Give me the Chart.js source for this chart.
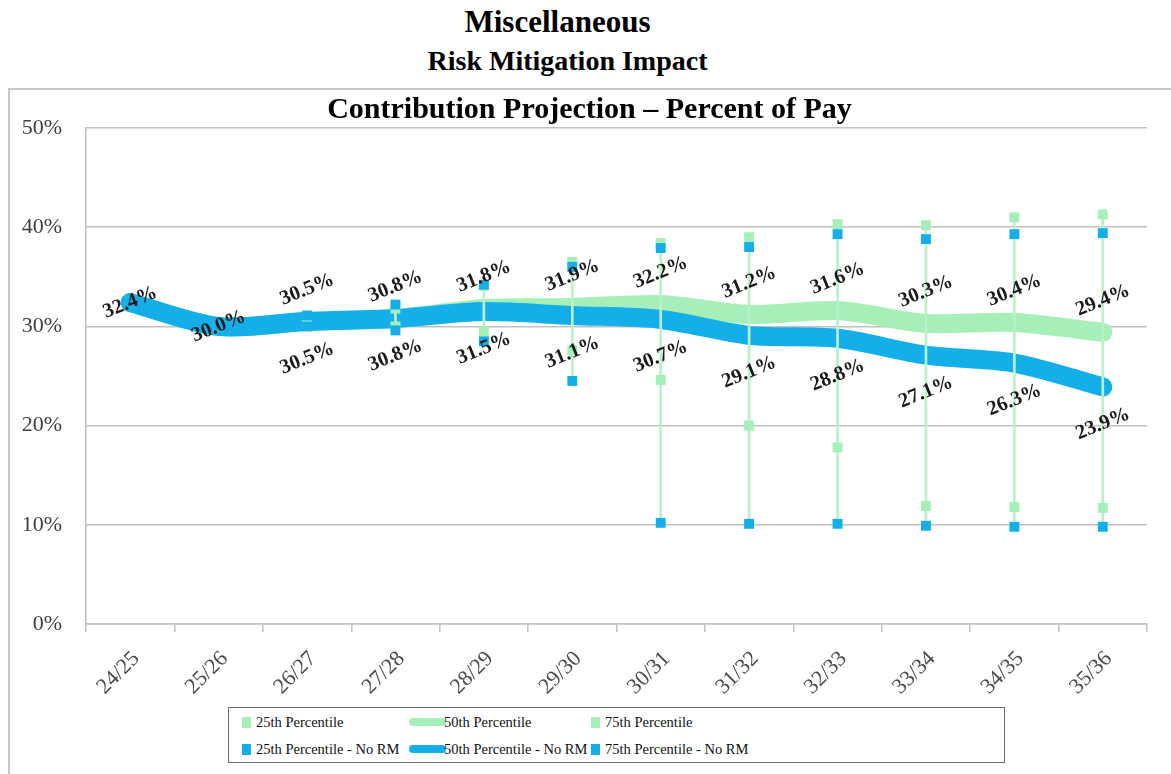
<!DOCTYPE html>
<html>
<head>
<meta charset="utf-8">
<script src="https://cdn.jsdelivr.net/npm/chart.js@4.4.1/dist/chart.umd.min.js"></script>
<style>
html,body{margin:0;padding:0;background:#fff;}
body{width:1171px;height:774px;position:relative;overflow:hidden;font-family:"Liberation Serif","Times New Roman",serif;color:#000;}
.t1{position:absolute;left:0;width:1115px;top:6px;text-align:center;font-size:31px;line-height:31px;font-weight:bold;}
.t2{position:absolute;left:0;width:1135px;top:47px;text-align:center;font-size:28px;line-height:28px;font-weight:bold;}
.frame{position:absolute;left:8px;top:88px;width:1300px;height:900px;border:2px solid #c8c8c8;box-sizing:border-box;}
.wrap{position:absolute;left:8px;top:88px;width:1163px;height:686px;}
.legend{position:absolute;left:228px;top:707px;width:777px;height:56px;border:1.5px solid #6e6e6e;box-sizing:border-box;background:#fff;}
.li{position:absolute;font-size:14.5px;line-height:16px;color:#111;white-space:nowrap;}
.mk{position:absolute;}
</style>
</head>
<body>
<div class="t1">Miscellaneous</div>
<div class="t2">Risk Mitigation Impact</div>
<div class="frame"></div>
<div class="wrap"><canvas id="c"></canvas></div>
<div class="legend" id="legend"></div>
<script>
// ---- data ----
const categories = ["24/25","25/26","26/27","27/28","28/29","29/30","30/31","31/32","32/33","33/34","34/35","35/36"];
const p25    = [32.4, 30.0, 30.1, 30.0, 29.5, 27.6, 24.6, 20.0, 17.8, 11.9, 11.8, 11.7];
const p50    = [32.4, 30.0, 30.5, 30.8, 31.8, 31.9, 32.2, 31.2, 31.6, 30.3, 30.4, 29.4];
const p75    = [32.4, 30.0, 31.0, 31.8, 34.1, 36.5, 38.4, 39.0, 40.3, 40.2, 41.0, 41.3];
const p25NoRM = [32.4, 30.0, 30.0, 29.6, 28.5, 24.5, 10.2, 10.1, 10.1, 9.9, 9.8, 9.8];
const p50NoRM = [32.4, 30.0, 30.5, 30.8, 31.5, 31.1, 30.7, 29.1, 28.8, 27.1, 26.3, 23.9];
const p75NoRM = [32.4, 30.0, 31.1, 32.2, 34.2, 36.0, 37.9, 38.0, 39.3, 38.8, 39.3, 39.4];
const yTicks = [0, 10, 20, 30, 40, 50];

const GREEN = '#a6efb8';
const BLUE = '#14aee8';
const HILO = '#b9f2c9';
const SERIF = '"Liberation Serif","Times New Roman",serif';

// high-low range across all series at each category
const hiLo = categories.map((c, i) => {
  const vals = [p25[i], p50[i], p75[i], p25NoRM[i], p50NoRM[i], p75NoRM[i]];
  return [Math.min(...vals), Math.max(...vals)];
});

const markerDs = (label, data, color, order) => ({
  type: 'line', label, data, showLine: false,
  pointStyle: 'rect', pointRadius: 7, pointBorderWidth: 0,
  pointBackgroundColor: color, borderColor: color, backgroundColor: color,
  order, legendKind: 'marker'
});
const lineDs = (label, data, color, order, labelPos) => ({
  type: 'line', label, data, borderColor: color, backgroundColor: color,
  borderWidth: 19, borderCapStyle: 'round', borderJoinStyle: 'round',
  tension: 0.3, pointRadius: 0, order, legendKind: 'line', labelPos
});

const labelPlugin = {
  id: 'valueLabels',
  afterDatasetsDraw(chart) {
    const ctx = chart.ctx;
    ctx.save();
    ctx.font = 'bold 20.5px ' + SERIF;
    ctx.fillStyle = '#1a1a1a';
    ctx.textAlign = 'center';
    ctx.textBaseline = 'middle';
    chart.data.datasets.forEach((ds, di) => {
      if (!ds.labelPos) return;
      const meta = chart.getDatasetMeta(di);
      meta.data.forEach((pt, i) => {
        let dy;
        if (i < 2) {
          if (ds.labelPos !== 'above') return;
          dy = 0;
        } else {
          dy = ds.labelPos === 'above' ? -32 : 37;
        }
        ctx.save();
        ctx.translate(pt.x, pt.y + dy);
        ctx.rotate(-22 * Math.PI / 180);
        ctx.fillText(ds.data[i].toFixed(1) + '%', 0, 0);
        ctx.restore();
      });
    });
    ctx.restore();
  }
};

const chart = new Chart(document.getElementById('c'), {
  data: {
    labels: categories,
    datasets: [
      lineDs('50th Percentile', p50, GREEN, 7, 'above'),
      lineDs('50th Percentile - No RM', p50NoRM, BLUE, 6, 'below'),
      { type: 'bar', label: 'hilo', data: hiLo, backgroundColor: HILO, barThickness: 2, order: 5, legendKind: 'none' },
      markerDs('25th Percentile', p25, GREEN, 4),
      markerDs('75th Percentile', p75, GREEN, 4),
      markerDs('25th Percentile - No RM', p25NoRM, BLUE, 2),
      markerDs('75th Percentile - No RM', p75NoRM, BLUE, 1)
    ]
  },
  options: {
    responsive: true,
    maintainAspectRatio: false,
    animation: false,
    events: [],
    layout: { padding: { left: 0, right: 0, top: 0, bottom: 0 } },
    plugins: {
      legend: { display: false },
      tooltip: { enabled: false },
      title: {
        display: true,
        text: 'Contribution Projection \u2013 Percent of Pay',
        color: '#000',
        font: { family: SERIF, size: 30, weight: 'bold' },
        padding: { top: 4, bottom: 0 }
      }
    },
    scales: {
      x: {
        type: 'category',
        offset: true,
        grid: { display: true, offset: true, drawOnChartArea: false, drawTicks: true, tickLength: 8, color: '#c0c0c0', lineWidth: 1.5 },
        border: { display: true, color: '#c0c0c0', width: 1.5 },
        ticks: { minRotation: 45, maxRotation: 45, autoSkip: false, color: '#4a4a4a', font: { family: SERIF, size: 22 }, padding: 14, labelOffset: 6 },
        afterFit(scale) { scale.height = 150; }
      },
      y: {
        min: 0, max: 50,
        afterBuildTicks(scale) { scale.ticks = yTicks.map(v => ({ value: v })); },
        ticks: { color: '#404040', font: { family: SERIF, size: 22 }, padding: 24, callback: v => v + '%' },
        grid: { color: '#c0c0c0', lineWidth: 1.5, drawTicks: false },
        border: { display: true, color: '#c0c0c0', width: 1.5 },
        afterFit(scale) { scale.width = 78; }
      },
      yRightSpace: {
        position: 'right', min: 0, max: 50,
        grid: { display: false, drawTicks: false },
        border: { display: false },
        ticks: { display: false },
        afterFit(scale) { scale.width = 24; }
      }
    }
  },
  plugins: [labelPlugin]
});

// ---- legend built from the chart's datasets ----
(function buildLegend() {
  const order = ['25th Percentile', '50th Percentile', '75th Percentile',
                 '25th Percentile - No RM', '50th Percentile - No RM', '75th Percentile - No RM'];
  const colX = [[13, 27], [180, 215], [362, 376]]; // marker x, text x (inside legend box)
  const rowY = [14, 41];
  const box = document.getElementById('legend');
  order.forEach((name, k) => {
    const ds = chart.data.datasets.find(d => d.label === name);
    const col = k % 3, row = Math.floor(k / 3);
    const cy = rowY[row];
    const m = document.createElement('div');
    m.className = 'mk';
    if (ds.legendKind === 'line') {
      m.style.cssText = `left:${colX[col][0]}px;top:${cy - 4}px;width:37px;height:8px;border-radius:4px;background:${ds.borderColor};`;
    } else {
      m.style.cssText = `left:${colX[col][0]}px;top:${cy - 5}px;width:9px;height:11px;background:${ds.pointBackgroundColor};`;
    }
    box.appendChild(m);
    const t = document.createElement('div');
    t.className = 'li';
    t.style.left = colX[col][1] + 'px';
    t.style.top = (cy - 8) + 'px';
    t.textContent = name;
    box.appendChild(t);
  });
})();
</script>
</body>
</html>
